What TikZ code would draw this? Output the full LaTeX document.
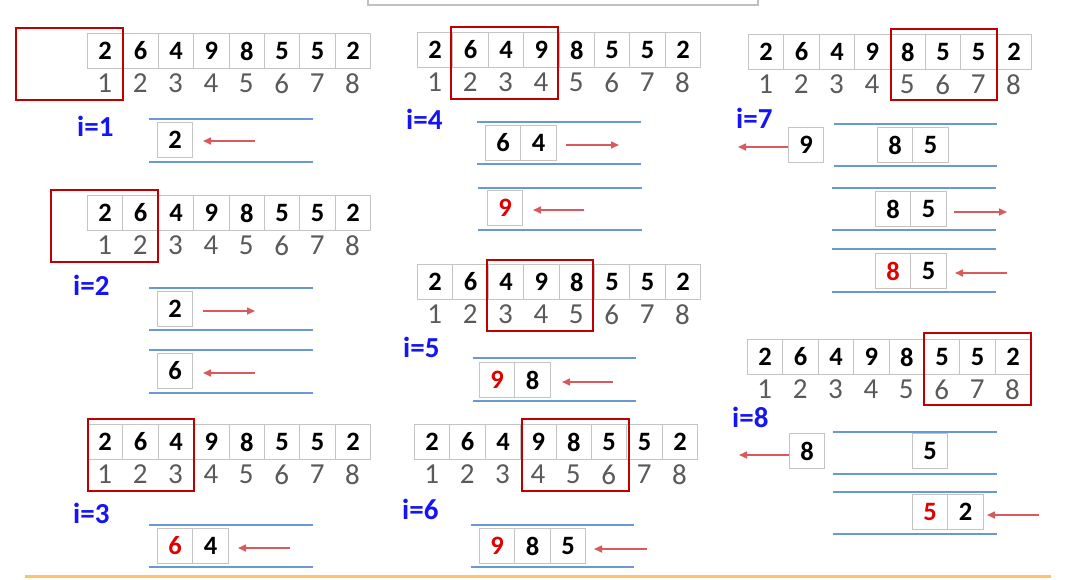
\documentclass[tikz,border=0pt]{standalone}
\usepackage{fontspec}
\setmainfont{Carlito}
\usetikzlibrary{arrows.meta}
\definecolor{cellgray}{HTML}{C4C4C4}
\definecolor{idxgray}{HTML}{5A5A5A}
\definecolor{boxred}{HTML}{C00000}
\definecolor{digred}{HTML}{E00000}
\definecolor{arrred}{HTML}{D95A5C}
\definecolor{stackblue}{HTML}{6A98D2}
\definecolor{lblblue}{HTML}{1414F5}
\definecolor{orangeline}{HTML}{FFC266}
\definecolor{topgray}{HTML}{C0C0C0}
\tikzset{
  cell/.style={draw=cellgray, line width=1pt, minimum width=35.4pt, minimum height=35pt, inner sep=0pt, anchor=north west, font=\fontsize{26.5}{26.5}\selectfont\bfseries},
  idx/.style={inner sep=0pt, text=idxgray, font=\fontsize{29}{29}\selectfont},
  lbl/.style={inner sep=0pt, anchor=base west, text=lblblue, font=\fontsize{29}{29}\selectfont\bfseries},
  redbox/.style={draw=boxred, line width=2pt},
  stackline/.style={draw=stackblue, line width=2pt},
  redarrow/.style={draw=arrred, line width=1.6pt, -{Triangle[length=8pt,width=7pt]}},
}
\newcommand\drawarr[3]{%
  \foreach \v [count=\k] in {2,6,4,9,8,5,5,2} {
    \node[cell] (#1c\k) at ({#2+(\k-1)*35.4}, #3) {\v};
    \node[idx] (#1i\k) at ({#2+(\k-1)*35.4+17.7}, {#3+50.5}) {\k};
  }}
\newcommand\stacklines[4]{%
  \draw[stackline] (#3,#1) -- (#4,#1);
  \draw[stackline] (#3,#2) -- (#4,#2);}
\begin{document}
\begin{tikzpicture}[x=1pt,y=-1pt]
\useasboundingbox (0,0) rectangle (1076,579);
% top partial box and bottom orange rule
\draw[topgray, line width=1.5pt] (368,-3) -- (368,5) -- (758,5) -- (758,-3);
\draw[orangeline, line width=2.5pt] (25,576.5) -- (1051,576.5);

% ---------- left column ----------
\drawarr{a1}{87}{33}
\draw[redbox] (16,28) rectangle (123,100);
\node[lbl] (l1) at (77,136) {i=1};
\stacklines{119}{162}{149}{313}
\node[cell] (s1a) at (157,122) {2};
\coordinate (p1a) at (255,141); \coordinate (p1b) at (203,141);
\draw[redarrow] (p1a) -- (p1b);

\drawarr{a2}{87}{195}
\draw[redbox] (51,190) rectangle (158,262);
\node[lbl] (l2) at (73,295) {i=2};
\stacklines{288}{330}{149}{313}
\node[cell] (s2a) at (157,291) {2};
\coordinate (p2a) at (203,311); \coordinate (p2b) at (255,311);
\draw[redarrow] (p2a) -- (p2b);
\stacklines{350}{393}{149}{313}
\node[cell] (s2b) at (157,353) {6};
\coordinate (p2c) at (255,373); \coordinate (p2d) at (203,373);
\draw[redarrow] (p2c) -- (p2d);

\drawarr{a3}{87}{424}
\draw[redbox] (88,419) rectangle (194,491);
\node[lbl] (l3) at (73,523) {i=3};
\stacklines{525}{567}{149}{313}
\node[cell, text=digred] (s3a) at (157,528) {6};
\node[cell] (s3b) at (192.4,528) {4};
\coordinate (p3a) at (290,548); \coordinate (p3b) at (238,548);
\draw[redarrow] (p3a) -- (p3b);

% ---------- middle column ----------
\drawarr{a4}{417}{32}
\draw[redbox] (451,27) rectangle (558,99);
\node[lbl] (l4) at (406,129) {i=4};
\stacklines{122}{164}{477}{641}
\node[cell] (s4a) at (485,125) {6};
\node[cell] (s4b) at (520.4,125) {4};
\coordinate (p4a) at (566,145); \coordinate (p4b) at (619,145);
\draw[redarrow] (p4a) -- (p4b);
\stacklines{188}{230}{478}{642}
\node[cell, text=digred] (s4c) at (487,190) {9};
\coordinate (p4c) at (584,210); \coordinate (p4d) at (533,210);
\draw[redarrow] (p4c) -- (p4d);

\drawarr{a5}{417}{264}
\draw[redbox] (487,260) rectangle (593,331);
\node[lbl] (l5) at (403,357) {i=5};
\stacklines{358}{401}{473}{636}
\node[cell, text=digred] (s5a) at (479,362) {9};
\node[cell] (s5b) at (514.4,362) {8};
\coordinate (p5a) at (613,382); \coordinate (p5b) at (562,382);
\draw[redarrow] (p5a) -- (p5b);

\drawarr{a6}{414}{424}
\draw[redbox] (522,419) rectangle (629,491);
\node[lbl] (l6) at (402,519) {i=6};
\stacklines{525}{567}{471}{634}
\node[cell, text=digred] (s6a) at (479,528) {9};
\node[cell] (s6b) at (514.4,528) {8};
\node[cell] (s6c) at (549.8,528) {5};
\coordinate (p6a) at (647,549); \coordinate (p6b) at (594,549);
\draw[redarrow] (p6a) -- (p6b);

% ---------- right column ----------
\drawarr{a7}{748}{34}
\draw[redbox] (891,29) rectangle (997,100);
\node[lbl] (l7) at (736,128) {i=7};
\node[cell] (s7x) at (788,127) {9};
\coordinate (p7x) at (738,147);
\draw[redarrow] (s7x.west |- p7x) -- (p7x);
\stacklines{124}{166}{834}{997}
\node[cell] (s7a) at (877,127) {8};
\node[cell] (s7b) at (912.4,127) {5};
\stacklines{188}{230}{832}{996}
\node[cell] (s7c) at (875,191) {8};
\node[cell] (s7d) at (910.4,191) {5};
\coordinate (p7a) at (954,212); \coordinate (p7b) at (1007,212);
\draw[redarrow] (p7a) -- (p7b);
\stacklines{249}{292}{832}{996}
\node[cell, text=digred] (s7e) at (875,253) {8};
\node[cell] (s7f) at (910.4,253) {5};
\coordinate (p7c) at (1007,273); \coordinate (p7d) at (955,273);
\draw[redarrow] (p7c) -- (p7d);

\drawarr{a8}{747}{339}
\draw[redbox] (924,333) rectangle (1031,405);
\node[lbl] (l8) at (732,427) {i=8};
\node[cell] (s8x) at (789,433) {8};
\coordinate (p8x) at (739,455);
\draw[redarrow] (s8x.west |- p8x) -- (p8x);
\stacklines{432}{474}{833}{997}
\node[cell] (s8a) at (912,433) {5};
\stacklines{492}{534}{833}{997}
\node[cell, text=digred] (s8b) at (912,494) {5};
\node[cell] (s8c) at (947.4,494) {2};
\coordinate (p8a) at (1039,515); \coordinate (p8b) at (987,515);
\draw[redarrow] (p8a) -- (p8b);
\end{tikzpicture}
\end{document}
